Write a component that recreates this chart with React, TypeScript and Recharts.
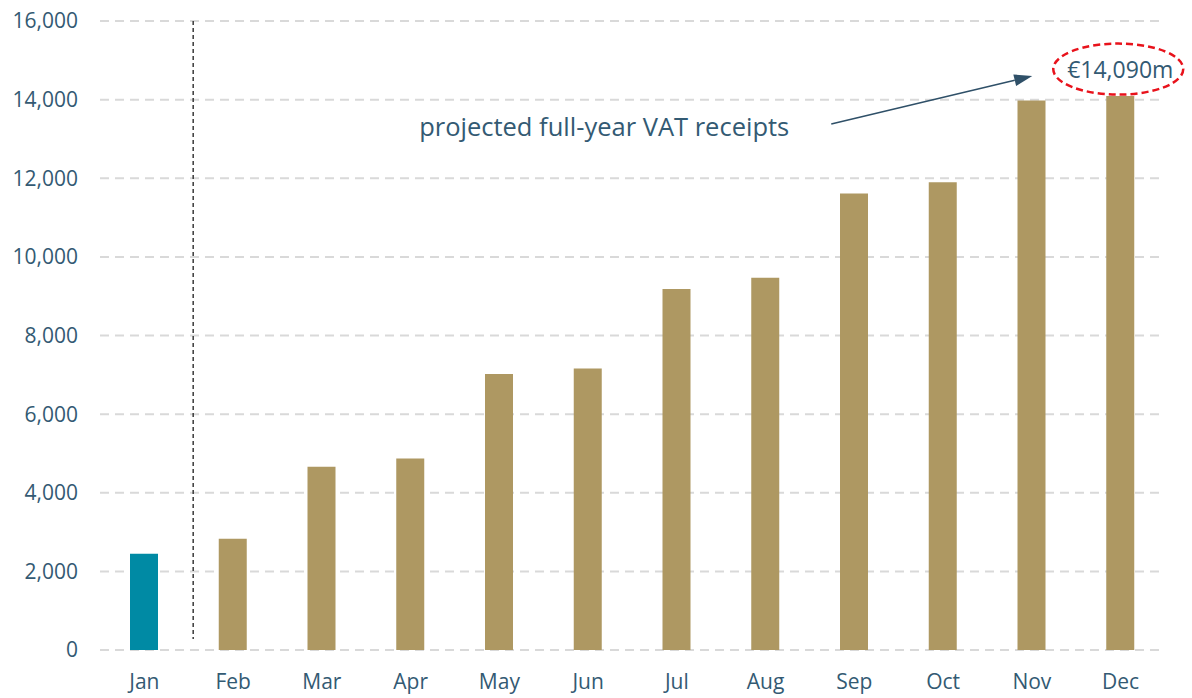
import React from "react";
import { BarChart, Bar, XAxis, YAxis, CartesianGrid, Cell, LabelList, ReferenceLine } from "recharts";

const months = ["Jan", "Feb", "Mar", "Apr", "May", "Jun", "Jul", "Aug", "Sep", "Oct", "Nov", "Dec"];
const receipts = [2450, 2830, 4660, 4870, 7020, 7160, 9180, 9470, 11610, 11900, 13980, 14090];
const yTicks = [0, 2000, 4000, 6000, 8000, 10000, 12000, 14000, 16000];
const annotationText = "projected full-year VAT receipts";

const data = months.map((m, i) => ({ idx: i, month: m, value: receipts[i] }));

const TEXT = "#335a73";
const FONT = "'Open Sans', sans-serif";

function XTick(props: any) {
  const { x, y, payload } = props;
  return (
    <text x={x} y={y} dy="0.71em" textAnchor="middle" fill={TEXT} fontSize={21} fontFamily={FONT}>
      {months[payload.value]}
    </text>
  );
}

function YTick(props: any) {
  const { x, y, payload } = props;
  return (
    <text x={x + 1} y={y} dy="0.355em" textAnchor="end" fill={TEXT} fontSize={21} fontFamily={FONT}>
      {Number(payload.value).toLocaleString("en-US")}
    </text>
  );
}

function DecLabel(props: any) {
  const { x, y, width, index, value } = props;
  if (index !== receipts.length - 1) return null;
  const cx = x + width / 2 - 2;
  const cy = y - 27;
  const x1 = cx - 287, y1 = cy + 55;
  const x2 = cx - 86, y2 = cy + 7;
  const ang = Math.atan2(y2 - y1, x2 - x1);
  const len = 18, half = 6;
  const bx = x2 - len * Math.cos(ang), by = y2 - len * Math.sin(ang);
  const p1 = `${x2},${y2}`;
  const p2 = `${bx + half * Math.sin(ang)},${by - half * Math.cos(ang)}`;
  const p3 = `${bx - half * Math.sin(ang)},${by + half * Math.cos(ang)}`;
  return (
    <g>
      <ellipse cx={cx} cy={cy} rx={65} ry={25.5} fill="none" stroke="#e8121b" strokeWidth={2.5} strokeDasharray="7 4" />
      <text x={cx + 2} y={cy} textAnchor="middle" dominantBaseline="central" fill={TEXT} fontSize={23} fontFamily={FONT}>
        {"€" + Number(value).toLocaleString("en-US") + "m"}
      </text>
      <line x1={x1} y1={y1} x2={bx} y2={by} stroke="#2f5068" strokeWidth={1.5} />
      <polygon points={`${p1} ${p2} ${p3}`} fill="#2f5068" />
      <text x={cx - 329} y={cy + 67} textAnchor="end" fill={TEXT} fontSize={25.5} fontFamily={FONT}>
        {annotationText}
      </text>
    </g>
  );
}

export default function App() {
  return (
    <div style={{ position: "absolute", left: 0, top: 0, background: "#fff" }}>
      <BarChart width={1192} height={698} data={data} margin={{ top: 21, right: 27, bottom: 18, left: 0 }}>
        <CartesianGrid vertical={false} stroke="#d9d9d9" strokeWidth={2} strokeDasharray="9 6" />
        <XAxis
          dataKey="idx"
          type="number"
          domain={[-0.5, 11.5]}
          ticks={data.map((d) => d.idx)}
          axisLine={false}
          tickLine={false}
          tickSize={0}
          tickMargin={24}
          interval={0}
          height={30}
          tick={XTick}
        />
        <YAxis
          width={100}
          domain={[0, 16000]}
          ticks={yTicks}
          axisLine={false}
          tickLine={false}
          tickSize={0}
          tickMargin={23}
          tick={YTick}
        />
        <ReferenceLine
          segment={[{ x: 0.55, y: 16000 }, { x: 0.55, y: 280 }]}
          stroke="#3a3a3a"
          strokeWidth={1.5}
          strokeDasharray="4 3"
          ifOverflow="visible"
        />
        <Bar dataKey="value" barSize={28} isAnimationActive={false}>
          {data.map((d, i) => (
            <Cell key={d.month} fill={i === 0 ? "#008aa4" : "#ae9862"} />
          ))}
          <LabelList dataKey="value" content={DecLabel} />
        </Bar>
      </BarChart>
    </div>
  );
}
